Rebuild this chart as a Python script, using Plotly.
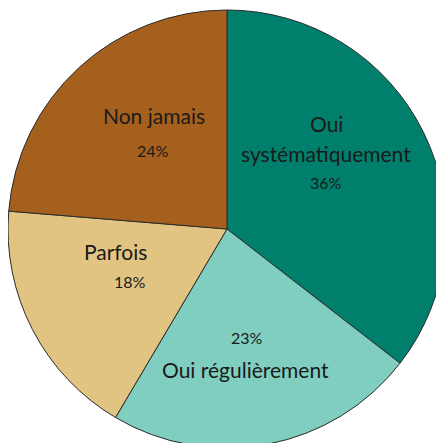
import plotly.graph_objects as go

# Data (clockwise from 12 o'clock)
labels = ['Oui systématiquement', 'Oui régulièrement', 'Parfois', 'Non jamais']
values = [35.5, 23.0, 17.8, 23.7]
pct_text = ['36%', '23%', '18%', '24%']
colors = ['#00806C', '#7FCEC0', '#E2C482', '#A5601E']

# page body has an 8px default margin, so the figure sits at (8, 8)
OFF = 8
W, H = 438, 440
M = dict(l=0, r=0, t=2, b=0)

fig = go.Figure(go.Pie(
    labels=labels,
    values=values,
    sort=False,
    direction='clockwise',
    rotation=0,
    marker=dict(colors=colors, line=dict(color='#2b2b2b', width=1)),
    textinfo='none',
    hoverinfo='label+percent',
    showlegend=False,
))


def px_to_paper(x, y):
    # screen pixel -> paper coords
    x, y = x - OFF, y - OFF
    pw = W - M['l'] - M['r']
    ph = H - M['t'] - M['b']
    return (x - M['l']) / pw, 1 - (y - M['t']) / ph


# label positions in screen pixels (name lines, percentage)
name_pos = {
    'Oui systématiquement': [('Oui', 326, 123), ('systématiquement', 326, 153)],
    'Oui régulièrement': [('Oui régulièrement', 245, 369)],
    'Parfois': [('Parfois', 115, 251)],
    'Non jamais': [('Non jamais', 154, 116)],
}
pct_pos = [(326, 183), (247, 337), (130, 281), (153, 151)]

for i, lab in enumerate(labels):
    for txt, x, y in name_pos[lab]:
        xp, yp = px_to_paper(x, y)
        fig.add_annotation(x=xp, y=yp, xref='paper', yref='paper', text=txt,
                           showarrow=False, xanchor='center', yanchor='middle',
                           font=dict(size=21, color='#1a1a1a'))
    x, y = pct_pos[i]
    xp, yp = px_to_paper(x, y)
    fig.add_annotation(x=xp, y=yp, xref='paper', yref='paper', text=pct_text[i],
                       showarrow=False, xanchor='center', yanchor='middle',
                       font=dict(size=16, color='#1a1a1a'))

fig.update_layout(
    width=W,
    height=H,
    margin=M,
    paper_bgcolor='white',
    plot_bgcolor='white',
    font=dict(family='Lato, Open Sans, sans-serif'),
)

fig.write_html("out.html")
